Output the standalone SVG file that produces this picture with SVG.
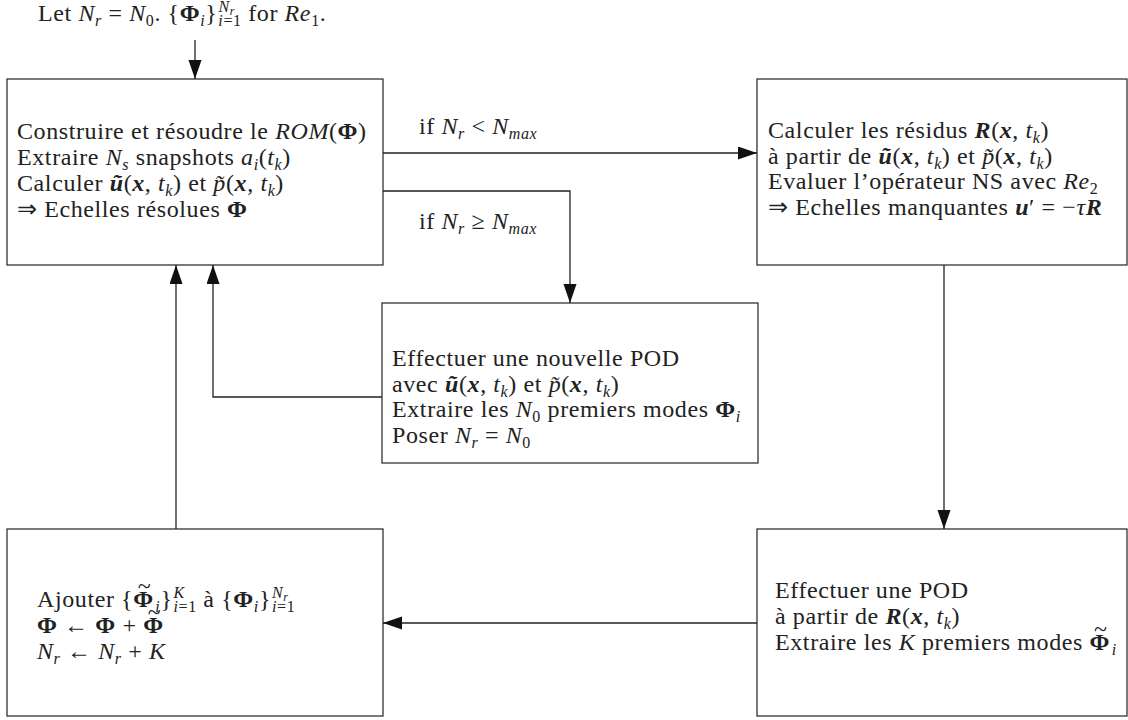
<svg xmlns="http://www.w3.org/2000/svg" width="1128" height="720" viewBox="0 0 1128 720">
<defs>
<style>
.t{font-family:"Liberation Serif","Times New Roman",serif;font-size:24px;fill:#222;letter-spacing:0.6px}
.i{font-style:italic}
.b{font-weight:bold}
.bi{font-weight:bold;font-style:italic}
.s{font-size:16px}
.ss{font-size:12px}
.box{fill:#fff;stroke:#333;stroke-width:1.3}
.c{fill:none;stroke:#222;stroke-width:1.3}
</style>
<marker id="ah" markerUnits="userSpaceOnUse" markerWidth="20" markerHeight="14" refX="19" refY="6.5" orient="auto">
<path d="M0,0 L19,6.5 L0,13 z" fill="#111"/>
</marker>
</defs>
<rect width="1128" height="720" fill="#fff"/>

<g id="start">
<text class="t" x="38" y="21">Let <tspan class="i">N</tspan><tspan class="s i" dy="5">r</tspan><tspan dy="-5"> = </tspan><tspan class="i">N</tspan><tspan class="s" dy="5">0</tspan><tspan dy="-5">. {</tspan><tspan class="b">Φ</tspan><tspan class="s i" dy="5">i</tspan><tspan dy="-5">}</tspan><tspan class="s i" dx="1" dy="-9">N</tspan><tspan class="ss i" dy="3">r</tspan><tspan class="s" dx="-16.6" dy="11"><tspan class="i">i</tspan>=1</tspan><tspan dy="-5"> for </tspan><tspan class="i">Re</tspan><tspan class="s" dy="5">1</tspan><tspan dy="-5">.</tspan></text>
</g>

<g id="node-rom">
<rect class="box" x="7" y="79" width="376" height="186"/>
<text class="t" x="17" y="139">Construire et résoudre le <tspan class="i">ROM</tspan>(<tspan class="b">Φ</tspan>)</text>
<text class="t" x="17" y="165">Extraire <tspan class="i">N</tspan><tspan class="s i" dy="5">s</tspan><tspan dy="-5"> snapshots </tspan><tspan class="i">a</tspan><tspan class="s i" dy="5">i</tspan><tspan dy="-5">(</tspan><tspan class="i">t</tspan><tspan class="s i" dy="5">k</tspan><tspan dy="-5">)</tspan></text>
<text class="t" x="17" y="191">Calculer <tspan class="bi">ũ</tspan>(<tspan class="bi">x</tspan>, <tspan class="i">t</tspan><tspan class="s i" dy="5">k</tspan><tspan dy="-5">) et </tspan><tspan class="i">p̃</tspan>(<tspan class="bi">x</tspan>, <tspan class="i">t</tspan><tspan class="s i" dy="5">k</tspan><tspan dy="-5">)</tspan></text>
<text class="t" x="17" y="217">⇒ Echelles résolues <tspan class="b">Φ</tspan></text>
</g>

<g id="node-residus">
<rect class="box" x="757" y="79" width="370" height="186"/>
<text class="t" x="768" y="138">Calculer les résidus <tspan class="bi">R</tspan>(<tspan class="bi">x</tspan>, <tspan class="i">t</tspan><tspan class="s i" dy="5">k</tspan><tspan dy="-5">)</tspan></text>
<text class="t" x="768" y="164">à partir de <tspan class="bi">ũ</tspan>(<tspan class="bi">x</tspan>, <tspan class="i">t</tspan><tspan class="s i" dy="5">k</tspan><tspan dy="-5">) et </tspan><tspan class="i">p̃</tspan>(<tspan class="bi">x</tspan>, <tspan class="i">t</tspan><tspan class="s i" dy="5">k</tspan><tspan dy="-5">)</tspan></text>
<text class="t" x="768" y="189">Evaluer l’opérateur NS avec <tspan class="i">Re</tspan><tspan class="s" dy="5">2</tspan></text>
<text class="t" x="768" y="215">⇒ Echelles manquantes <tspan class="bi">u</tspan>′ = −<tspan class="i">τ</tspan><tspan class="bi">R</tspan></text>
</g>

<g id="node-newpod">
<rect class="box" x="382" y="303" width="376" height="160"/>
<text class="t" x="392" y="366">Effectuer une nouvelle POD</text>
<text class="t" x="392" y="392">avec <tspan class="bi">ũ</tspan>(<tspan class="bi">x</tspan>, <tspan class="i">t</tspan><tspan class="s i" dy="5">k</tspan><tspan dy="-5">) et </tspan><tspan class="i">p̃</tspan>(<tspan class="bi">x</tspan>, <tspan class="i">t</tspan><tspan class="s i" dy="5">k</tspan><tspan dy="-5">)</tspan></text>
<text class="t" x="392" y="417">Extraire les <tspan class="i">N</tspan><tspan class="s" dy="5">0</tspan><tspan dy="-5"> premiers modes </tspan><tspan class="b">Φ</tspan><tspan class="s i" dy="5">i</tspan></text>
<text class="t" x="392" y="443">Poser <tspan class="i">N</tspan><tspan class="s i" dy="5">r</tspan><tspan dy="-5"> = </tspan><tspan class="i">N</tspan><tspan class="s" dy="5">0</tspan></text>
</g>

<g id="node-ajouter">
<rect class="box" x="7" y="529" width="376" height="187"/>
<text class="t" x="37" y="607">Ajouter {<tspan class="b">Φ</tspan><tspan dx="-16" dy="-13">~</tspan><tspan class="s i" dx="4" dy="18">i</tspan><tspan dy="-5">}</tspan><tspan class="s i" dx="1" dy="-9">K</tspan><tspan class="s" dx="-11.3" dy="14"><tspan class="i">i</tspan>=1</tspan><tspan dy="-5"> à {</tspan><tspan class="b">Φ</tspan><tspan class="s i" dy="5">i</tspan><tspan dy="-5">}</tspan><tspan class="s i" dx="1" dy="-9">N</tspan><tspan class="ss i" dy="3">r</tspan><tspan class="s" dx="-16.6" dy="11"><tspan class="i">i</tspan>=1</tspan></text>
<text class="t" x="37" y="633"><tspan class="b">Φ</tspan> ← <tspan class="b">Φ</tspan> + <tspan class="b">Φ</tspan><tspan dx="-16" dy="-13">~</tspan></text>
<text class="t" x="37" y="659"><tspan class="i">N</tspan><tspan class="s i" dy="5">r</tspan><tspan dy="-5"> ← </tspan><tspan class="i">N</tspan><tspan class="s i" dy="5">r</tspan><tspan dy="-5"> + </tspan><tspan class="i">K</tspan></text>
</g>

<g id="node-pod">
<rect class="box" x="757" y="529" width="370" height="187"/>
<text class="t" x="775" y="598">Effectuer une POD</text>
<text class="t" x="775" y="624">à partir de <tspan class="bi">R</tspan>(<tspan class="bi">x</tspan>, <tspan class="i">t</tspan><tspan class="s i" dy="5">k</tspan><tspan dy="-5">)</tspan></text>
<text class="t" x="775" y="650">Extraire les <tspan class="i">K</tspan> premiers modes <tspan class="b">Φ</tspan><tspan dx="-16" dy="-13">~</tspan><tspan class="s i" dx="4" dy="18">i</tspan></text>
</g>

<g id="connectors">
<line class="c" x1="195" y1="40" x2="195" y2="79" marker-end="url(#ah)"/>
<line class="c" x1="383" y1="153" x2="757" y2="153" marker-end="url(#ah)"/>
<polyline class="c" points="383,191 570,191 570,303" marker-end="url(#ah)"/>
<polyline class="c" points="382,397 213,397 213,265" marker-end="url(#ah)"/>
<line class="c" x1="176" y1="529" x2="176" y2="265" marker-end="url(#ah)"/>
<line class="c" x1="944" y1="265" x2="944" y2="529" marker-end="url(#ah)"/>
<line class="c" x1="757" y1="623" x2="383" y2="623" marker-end="url(#ah)"/>
<text class="t" x="419" y="134">if <tspan class="i">N</tspan><tspan class="s i" dy="5">r</tspan><tspan dy="-5"> &lt; </tspan><tspan class="i">N</tspan><tspan class="s i" dy="5">max</tspan></text>
<text class="t" x="419" y="229">if <tspan class="i">N</tspan><tspan class="s i" dy="5">r</tspan><tspan dy="-5"> ≥ </tspan><tspan class="i">N</tspan><tspan class="s i" dy="5">max</tspan></text>
</g>
</svg>
